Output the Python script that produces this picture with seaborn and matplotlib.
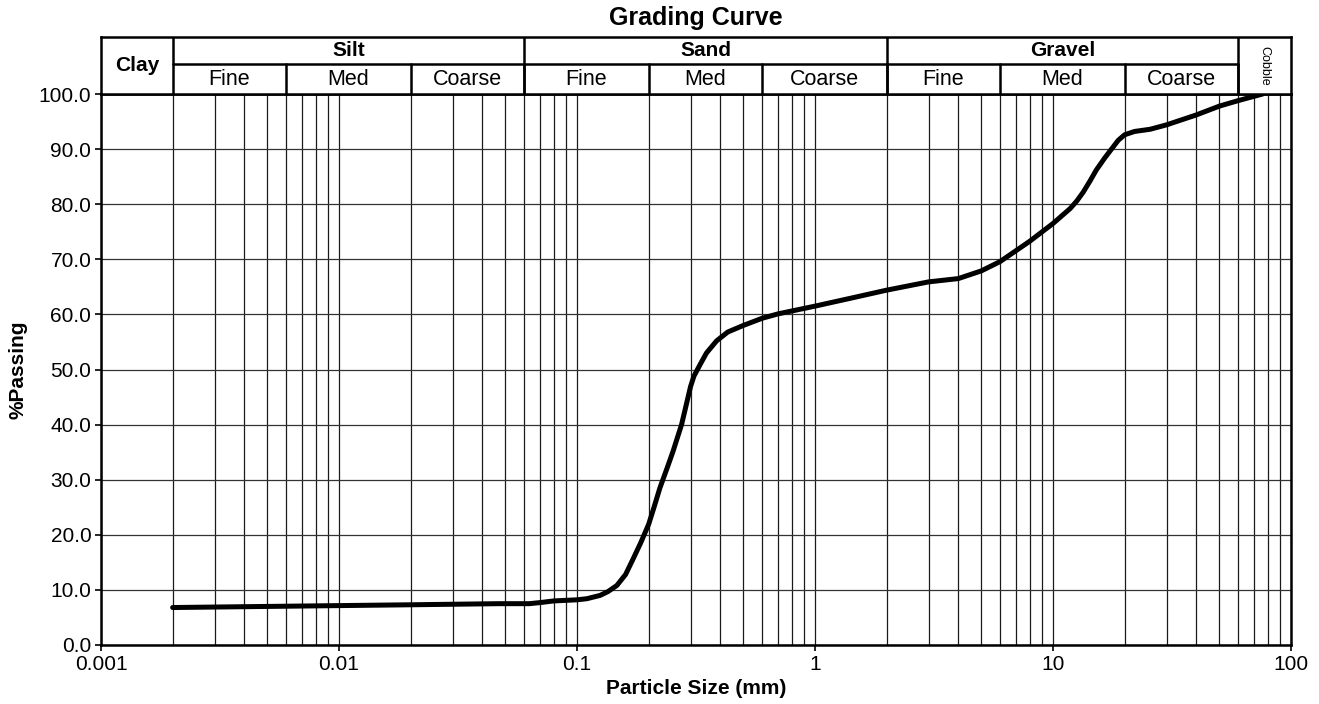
import numpy as np
import pandas as pd
import matplotlib
matplotlib.use("Agg")
import matplotlib.pyplot as plt
from matplotlib.ticker import LogLocator, FixedLocator, NullFormatter, FormatStrFormatter
import seaborn as sns

# ---- data ---------------------------------------------------------------
size_mm = [0.002, 0.005, 0.01, 0.02, 0.047, 0.063, 0.07, 0.08, 0.1, 0.11,
           0.125, 0.135, 0.147, 0.16, 0.172, 0.185, 0.2, 0.21, 0.223, 0.24,
           0.253, 0.275, 0.29, 0.3, 0.31, 0.33, 0.35, 0.386, 0.43, 0.5,
           0.6, 0.7, 1.0, 1.4, 2.0, 3.0, 4.0, 5.0, 6.0, 8.0,
           10.0, 11.8, 12.6, 13.4, 14.3, 15.2, 16.5, 17.9, 18.8, 20.0,
           22.0, 25.6, 30.0, 40.0, 50.0, 60.0, 76.0]
passing = [6.8, 7.0, 7.15, 7.3, 7.5, 7.5, 7.7, 8.0, 8.2, 8.4,
           9.0, 9.7, 10.8, 12.8, 15.6, 18.5, 21.9, 24.8, 28.5, 32.3,
           35.1, 40.0, 44.2, 46.9, 48.8, 51.0, 53.0, 55.2, 56.8, 58.0,
           59.3, 60.1, 61.5, 62.9, 64.4, 65.9, 66.5, 67.9, 69.6, 73.3,
           76.5, 79.2, 80.6, 82.2, 84.2, 86.2, 88.4, 90.4, 91.6, 92.6,
           93.2, 93.6, 94.4, 96.2, 97.8, 98.8, 100.0]

x_ticks = [0.001, 0.01, 0.1, 1, 10, 100]
x_tick_labels = ["0.001", "0.01", "0.1", "1", "10", "100"]

# soil classes: (name, lower bound, upper bound)
main_classes = [("Clay", 0.001, 0.002), ("Silt", 0.002, 0.06), ("Sand", 0.06, 2.0),
                ("Gravel", 2.0, 60.0), ("Cobble", 60.0, 100.0)]
sub_classes = [("Fine", 0.002, 0.006), ("Med", 0.006, 0.02), ("Coarse", 0.02, 0.06),
               ("Fine", 0.06, 0.2), ("Med", 0.2, 0.6), ("Coarse", 0.6, 2.0),
               ("Fine", 2.0, 6.0), ("Med", 6.0, 20.0), ("Coarse", 20.0, 60.0)]

df = pd.DataFrame({"size": size_mm, "passing": passing})

sns.set_theme(style="white")
plt.rcParams.update({
    "font.family": ["Liberation Sans", "DejaVu Sans"],
    "axes.edgecolor": "black",
    "text.color": "black",
    "axes.labelcolor": "black",
    "xtick.color": "black",
    "ytick.color": "black",
})

W, H = 1319, 704
fig = plt.figure(figsize=(W / 100, H / 100), dpi=100)
left, right, bottom, top, htop = 101 / W, 1291 / W, 1 - 645 / H, 1 - 94 / H, 1 - 37 / H
ax = fig.add_axes([left, bottom, right - left, top - bottom])
axh = fig.add_axes([left, top, right - left, htop - top], sharex=ax)

sns.lineplot(data=df, x="size", y="passing", color="black", lw=3.6,
             estimator=None, ax=ax, zorder=5)
ax.lines[-1].set_solid_joinstyle("round")
ax.lines[-1].set_solid_capstyle("round")

ax.set_xscale("log")
ax.set_xlim(0.001, 100)
ax.set_ylim(0, 100)
ax.xaxis.set_major_locator(FixedLocator(x_ticks))
ax.xaxis.set_minor_locator(LogLocator(base=10, subs=np.arange(2, 10)))
ax.xaxis.set_minor_formatter(NullFormatter())
ax.set_xticks(x_ticks)
ax.set_xticklabels(x_tick_labels)
ax.set_yticks(np.arange(0, 101, 10))
ax.yaxis.set_major_formatter(FormatStrFormatter("%.1f"))
ax.tick_params(axis="both", which="major", direction="out", length=4, width=1.2,
               labelsize=15, colors="black", bottom=True, left=True, pad=3)
ax.tick_params(axis="x", which="minor", length=0)
ax.grid(True, which="both", axis="x", color="#1a1a1a", lw=0.9)
ax.grid(True, which="major", axis="y", color="#333333", lw=0.9)
for s in ax.spines.values():
    s.set_linewidth(1.8)
    s.set_color("black")

ax.set_xlabel("Particle Size (mm)", fontsize=15, fontweight="bold")
ax.set_ylabel("%Passing", fontsize=15, fontweight="bold")
ax.xaxis.set_label_coords(0.5, -0.062)
ax.yaxis.set_label_coords(-0.062, 0.5)

# ---- classification header ----------------------------------------------
mid = 1.05
axh.set_ylim(0, 2)
axh.tick_params(left=False, bottom=False, labelleft=False, labelbottom=False,
                which="both")
axh.grid(False)
for s in axh.spines.values():
    s.set_linewidth(1.8)
    s.set_color("black")

for name, lo, hi in main_classes:
    xc = np.sqrt(lo * hi)
    if hi < 100:
        axh.plot([hi, hi], [0, 2], color="black", lw=1.8)
    if name == "Clay":
        axh.text(xc, 1.0, name, ha="center", va="center", fontsize=15, fontweight="bold")
    elif name == "Cobble":
        axh.text(xc, 1.0, name, ha="center", va="center", fontsize=9, rotation=-90)
    else:
        axh.plot([lo, hi], [mid, mid], color="black", lw=1.8)
        axh.text(xc, 1.53, name, ha="center", va="center", fontsize=15, fontweight="bold")

for name, lo, hi in sub_classes:
    axh.plot([hi, hi], [0, mid], color="black", lw=1.8)
    axh.text(np.sqrt(lo * hi), 0.5, name, ha="center", va="center", fontsize=15.5)

fig.text((left + right) / 2, 1 - 18 / H, "Grading Curve", ha="center", va="center",
         fontsize=18, fontweight="bold")

fig.savefig("out.png", dpi=100)
